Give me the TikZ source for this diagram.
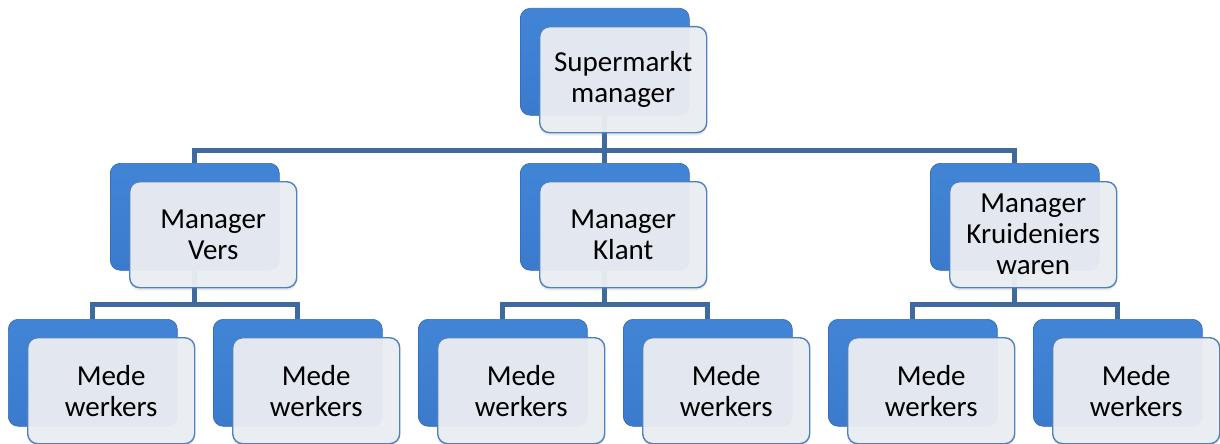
\documentclass[tikz,border=0pt]{standalone}
\usepackage{fontspec}
\setmainfont{Carlito}
\usetikzlibrary{positioning, calc, shadows, backgrounds}

\definecolor{boxline}{HTML}{3567A8}
\definecolor{cardfill}{HTML}{EAEDF2}
\definecolor{cardline}{HTML}{4F81BD}
\definecolor{connline}{HTML}{3E6A9F}

\pgfdeclareverticalshading{orgblue}{100bp}{%
  color(0bp)=(rgb,255:red,40;green,92;blue,165);
  color(8bp)=(rgb,255:red,52;green,112;blue,192);
  color(30bp)=(rgb,255:red,60;green,124;blue,206);
  color(80bp)=(rgb,255:red,66;green,133;blue,214);
  color(92bp)=(rgb,255:red,118;green,176;blue,236);
  color(100bp)=(rgb,255:red,84;green,146;blue,220)}

\tikzset{
  back/.style={rectangle, rounded corners=10pt, minimum width=169pt, minimum height=107pt,
    inner sep=0pt, anchor=north west, draw=boxline, line width=0.6pt, shading=orgblue},
  card/.style={rectangle, rounded corners=10pt, minimum width=167pt, minimum height=106pt,
    inner sep=0pt, align=center, draw=cardline, line width=1.4pt,
    fill=cardfill, fill opacity=0.96, text opacity=1,
    drop shadow={opacity=0.15, shadow xshift=0pt, shadow yshift=-3pt},
    font=\fontsize{29}{31}\selectfont},
  conn/.style={connline, line width=5pt}
}

\begin{document}
\begin{tikzpicture}[x=1pt, y=-1pt]
\useasboundingbox (0,0) rectangle (1220,444);

%top
\node[back] (smB) at (520,8) {};
\node[card, below right=18pt and 19pt of smB.north west] (sm) {Supermarkt\\manager};

%managers
\node[back] (versB) at (110,163) {};
\node[card, below right=18pt and 19pt of versB.north west] (vers) {Manager\\Vers};
\node[back] (klantB) at (520,163) {};
\node[card, below right=18pt and 19pt of klantB.north west] (klant) {Manager\\Klant};
\node[back] (kruidB) at (930,163) {};
\node[card, below right=18pt and 19pt of kruidB.north west] (kruid) {Manager\\Kruideniers\\waren};

%workers
\node[back] (w1B) at (8,319) {};
\node[card, below right=18pt and 19pt of w1B.north west] (w1) {Mede\\werkers};
\node[back] (w2B) at (213,319) {};
\node[card, below right=18pt and 19pt of w2B.north west] (w2) {Mede\\werkers};
\node[back] (w3B) at (418,319) {};
\node[card, below right=18pt and 19pt of w3B.north west] (w3) {Mede\\werkers};
\node[back] (w4B) at (623,319) {};
\node[card, below right=18pt and 19pt of w4B.north west] (w4) {Mede\\werkers};
\node[back] (w5B) at (828,319) {};
\node[card, below right=18pt and 19pt of w5B.north west] (w5) {Mede\\werkers};
\node[back] (w6B) at (1033,319) {};
\node[card, below right=18pt and 19pt of w6B.north west] (w6) {Mede\\werkers};

%connectors, behind the boxes
\begin{scope}[on background layer]
\coordinate (bus0) at ($(smB.south)+(0,35)$);
\draw[conn] (smB.south) -- (bus0);
\draw[conn] (versB.north) |- (bus0) -| (kruidB.north);
\draw[conn] (bus0) -- (klantB.north);

\coordinate (bus1) at ($(versB.south)+(0,34)$);
\draw[conn] (versB.south) -- (bus1);
\draw[conn] (w1B.north) |- (bus1) -| (w2B.north);

\coordinate (bus2) at ($(klantB.south)+(0,34)$);
\draw[conn] (klantB.south) -- (bus2);
\draw[conn] (w3B.north) |- (bus2) -| (w4B.north);

\coordinate (bus3) at ($(kruidB.south)+(0,34)$);
\draw[conn] (kruidB.south) -- (bus3);
\draw[conn] (w5B.north) |- (bus3) -| (w6B.north);
\end{scope}

\end{tikzpicture}
\end{document}
